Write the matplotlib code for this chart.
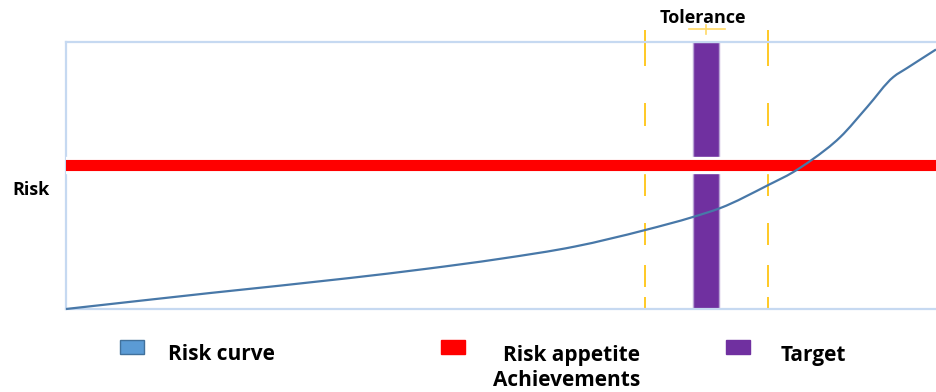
import numpy as np
import matplotlib.pyplot as plt
from matplotlib.patches import Rectangle, PathPatch
from matplotlib.path import Path
import matplotlib.patheffects as pe

plt.rcParams['font.family'] = ['Open Sans', 'DejaVu Sans']
plt.rcParams['lines.scale_dashes'] = False

# risk curve, read along the horizontal axis (0-100 scale)
curve_x = [0, 16.6, 32.6, 41.3, 49.9, 58.5, 66.6, 72.1, 75.2, 80.7, 83.6, 85.7, 89.0, 92.1, 95.1, 96.7, 100]
curve_y = [0, 6.0, 11.6, 15.0, 18.8, 23.4, 29.6, 34.5, 37.8, 46.4, 51.3, 55.8, 64.4, 75.7, 86.9, 90.3, 97.2]

risk_appetite = 53.9
target = (72.1, 75.1)
tolerance = (66.6, 80.7)

labels = ['Risk curve', 'Risk appetite\nAchievements', 'Target']
colors = ['#5B9BD5', '#FF0000', '#7030A0']


def smooth_path(xs, ys):
    """Cubic Hermite through the points (non-uniform x), as Bezier segments."""
    x = np.asarray(xs, float)
    y = np.asarray(ys, float)
    h = np.diff(x)
    d = np.diff(y) / h
    m = np.empty_like(x)
    m[0], m[-1] = d[0], d[-1]
    m[1:-1] = (h[:-1] * d[1:] + h[1:] * d[:-1]) / (h[:-1] + h[1:])
    verts = [(x[0], y[0])]
    codes = [Path.MOVETO]
    for i in range(len(x) - 1):
        verts += [(x[i] + h[i] / 3, y[i] + m[i] * h[i] / 3),
                  (x[i + 1] - h[i] / 3, y[i + 1] - m[i + 1] * h[i] / 3),
                  (x[i + 1], y[i + 1])]
        codes += [Path.CURVE4] * 3
    return Path(verts, codes)


fig = plt.figure(figsize=(9.36, 3.92), dpi=100)
ax = fig.add_axes([66 / 936, 83 / 392, 870 / 936, 267 / 392])
ax.set_xlim(0, 100)
ax.set_ylim(0, 100)
ax.set_xticks([])
ax.set_yticks([])
for side in ['left', 'top', 'bottom']:
    ax.spines[side].set_color('#C6D9F1')
    ax.spines[side].set_linewidth(1.6)
ax.spines['right'].set_visible(False)

# tolerance band limits (dashed, running a little above the frame)
dash_px = [36, 37, 23, 47, 23, 27, 22, 20, 22, 10, 15, 10]
for tx in tolerance:
    ax.plot([tx, tx], [104.5, 0], color='#FFC000', lw=1.2,
            dashes=[d * 0.72 for d in dash_px], clip_on=False, zorder=1)

# target bar
ax.axvspan(target[0], target[1], facecolor='#7030A0', edgecolor='#B9A3D6',
           lw=1, zorder=2)

# risk appetite line with white halo
ax.axhline(risk_appetite, color='#FF0000', lw=8, zorder=3,
           path_effects=[pe.Stroke(linewidth=12.5, foreground='white'), pe.Normal()])

ax.add_patch(PathPatch(smooth_path(curve_x, curve_y), facecolor='none',
                       edgecolor='#4878A8', lw=1.6, zorder=4, clip_on=False))

# tolerance bracket and label
mid = sum(target) / 2
ax.plot([target[0] - 0.5, target[1] + 0.6], [104.8, 104.8], color='#FFD966',
        lw=1.2, clip_on=False)
ax.plot([mid, mid], [103, 106.4], color='#FFD966', lw=1.2, clip_on=False)
fig.text(703 / 936, 1 - 18 / 392, 'Tolerance', ha='center', va='center',
         fontsize=13, fontweight='bold')

fig.text(12 / 936, 1 - 190 / 392, 'Risk', ha='left', va='center',
         fontsize=13, fontweight='bold')

# legend
keys = [(120, 168, 'left'), (441, 640, 'right'), (726, 781, 'left')]
for (kx, tx, ha), lab, c in zip(keys, labels, colors):
    ec = '#41719C' if c == '#5B9BD5' else c
    fig.add_artist(Rectangle((kx / 936, 1 - 354 / 392), 24 / 936, 14 / 392,
                             transform=fig.transFigure, facecolor=c,
                             edgecolor=ec, lw=1))
    ty = 368 if '\n' in lab else 355
    fig.text(tx / 936, 1 - ty / 392, lab, ha=ha, va='center', multialignment='right',
             fontsize=15, fontweight='bold', linespacing=1.2)

fig.savefig('out.png', dpi=100)
